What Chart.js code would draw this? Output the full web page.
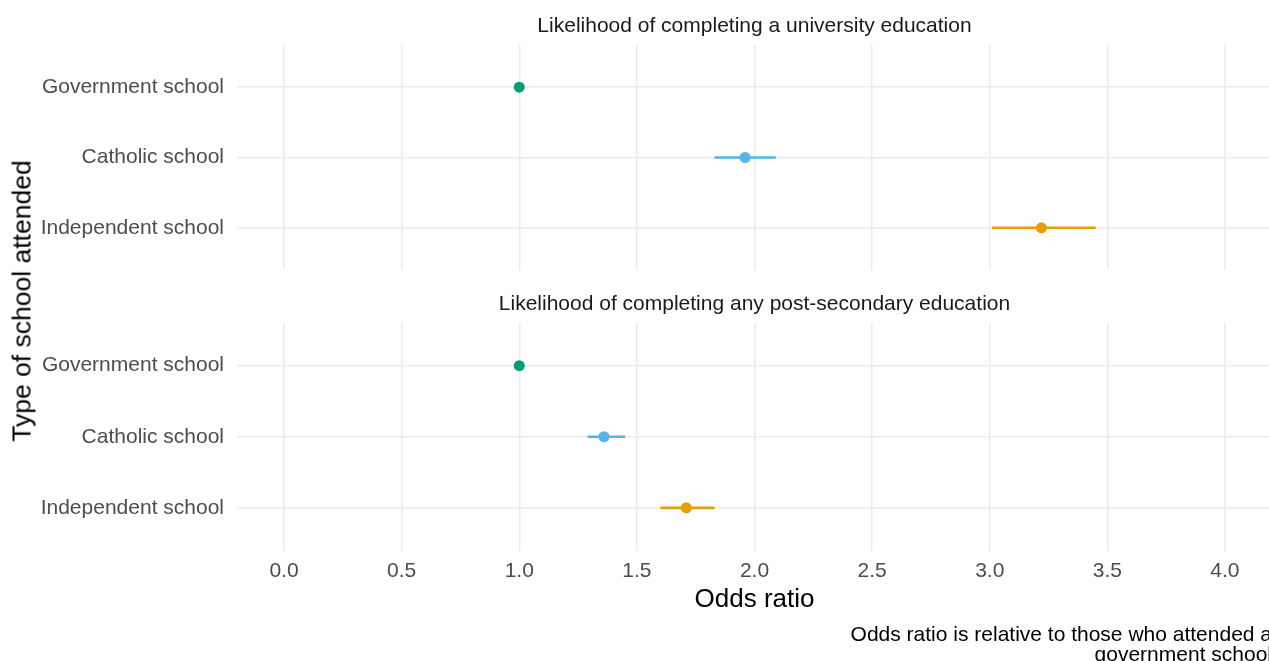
<!DOCTYPE html>
<html>
<head>
<meta charset="utf-8">
<script src="https://cdn.jsdelivr.net/npm/chart.js@4.4.0/dist/chart.umd.min.js"></script>
<style>
  html, body { margin: 0; padding: 0; background: #fff; overflow: hidden; }
  #wrap { position: relative; width: 1269px; height: 661px; overflow: hidden; }
  #top { position: absolute; left: 0; top: 0; }
  #bottom { position: absolute; left: 0; top: 280px; }
  #ytitle {
    position: absolute; left: 22px; top: 301px;
    transform: translate(-50%, -50%) rotate(-90deg);
    font: 26.5px 'Liberation Sans', Arial, sans-serif; color: #000; white-space: nowrap;
  }
</style>
</head>
<body>
<div id="wrap">
  <canvas id="top" width="1290" height="280"></canvas>
  <canvas id="bottom" width="1290" height="400"></canvas>
  <div id="ytitle">Type of school attended</div>
</div>
<script>
// dati
var schools = ['Government school', 'Catholic school', 'Independent school'];
var colori = ['#009E73', '#56B4E9', '#E69F00'];
var xTicks = [0, 0.5, 1, 1.5, 2, 2.5, 3, 3.5, 4];

// pannello 1: università
var uniOR = [1.0, 1.96, 3.22];
var uniLow = [1.0, 1.83, 3.01];
var uniHigh = [1.0, 2.09, 3.45];

// pannello 2: qualsiasi post-secondaria
var postOR = [1.0, 1.36, 1.71];
var postLow = [1.0, 1.29, 1.60];
var postHigh = [1.0, 1.45, 1.83];

var font = "'Liberation Sans', Arial, sans-serif";
var grigia = '#ebebeb';

function costruisciDatasets(or, low, high) {
    var ds = [];
    // punti prima, così vengono disegnati sopra le barre
    var punti = [];
    for (var i = 0; i < schools.length; i++) {
        punti.push({x: or[i], y: i});
    }
    ds.push({
        data: punti,
        pointRadius: 5.5,
        pointHoverRadius: 5.5,
        pointBorderWidth: 0,
        pointBackgroundColor: colori,
        showLine: false
    });
    for (var j = 0; j < schools.length; j++) {
        ds.push({
            data: [{x: low[j], y: j}, {x: high[j], y: j}],
            showLine: true,
            borderColor: colori[j],
            borderWidth: 2.6,
            pointRadius: 0
        });
    }
    return ds;
}

function opzioni(titolo, inBasso) {
    var opt = {
        responsive: false,
        animation: false,
        layout: { padding: { left: 0, right: 18, top: 0, bottom: inBasso ? 0 : 10 } },
        plugins: {
            legend: { display: false },
            tooltip: { enabled: false },
            title: {
                display: true,
                text: titolo,
                fullSize: false,
                color: '#1a1a1a',
                font: { family: font, size: 21, weight: 'normal', lineHeight: 1.2 },
                padding: { top: inBasso ? 11.4 : 13.4, bottom: 6.4 }
            },
            subtitle: {
                display: inBasso,
                text: ['Odds ratio is relative to those who attended a', 'government school'],
                position: 'bottom',
                align: 'end',
                fullSize: false,
                color: '#000',
                font: { family: font, size: 21, weight: 'normal', lineHeight: 0.95 },
                padding: { top: 6, bottom: 15 }
            }
        },
        scales: {
            x: {
                type: 'linear',
                min: -0.2,
                max: 4.2,
                afterBuildTicks: function (scale) {
                    scale.ticks = xTicks.map(function (v) { return {value: v}; });
                },
                grid: { color: grigia, lineWidth: 1.5, drawTicks: false },
                border: { display: false },
                ticks: {
                    display: inBasso,
                    color: '#4d4d4d',
                    font: { family: font, size: 21 },
                    padding: 8.4,
                    maxRotation: 0,
                    callback: function (v) { return v.toFixed(1); }
                },
                title: {
                    display: inBasso,
                    text: 'Odds ratio',
                    color: '#000',
                    font: { family: font, size: 26, lineHeight: 1.2 },
                    padding: { top: -8.6, bottom: 4 }
                }
            },
            y: {
                type: 'linear',
                reverse: true,
                min: -0.6,
                max: 2.6,
                afterBuildTicks: function (scale) {
                    scale.ticks = schools.map(function (s, i) { return {value: i}; });
                },
                afterFit: function (scale) {
                    scale.width = 237;
                    scale.paddingTop = 0;
                    scale.paddingBottom = 0;
                },
                grid: { color: grigia, lineWidth: 1.5, drawTicks: false },
                border: { display: false },
                ticks: {
                    color: '#4d4d4d',
                    font: { family: font, size: 21 },
                    padding: 13,
                    callback: function (v) { return schools[v]; }
                }
            }
        }
    };
    return opt;
}

new Chart(document.getElementById('top').getContext('2d'), {
    type: 'scatter',
    data: { datasets: costruisciDatasets(uniOR, uniLow, uniHigh) },
    options: opzioni('Likelihood of completing a university education', false)
});

new Chart(document.getElementById('bottom').getContext('2d'), {
    type: 'scatter',
    data: { datasets: costruisciDatasets(postOR, postLow, postHigh) },
    options: opzioni('Likelihood of completing any post-secondary education', true)
});
</script>
</body>
</html>
